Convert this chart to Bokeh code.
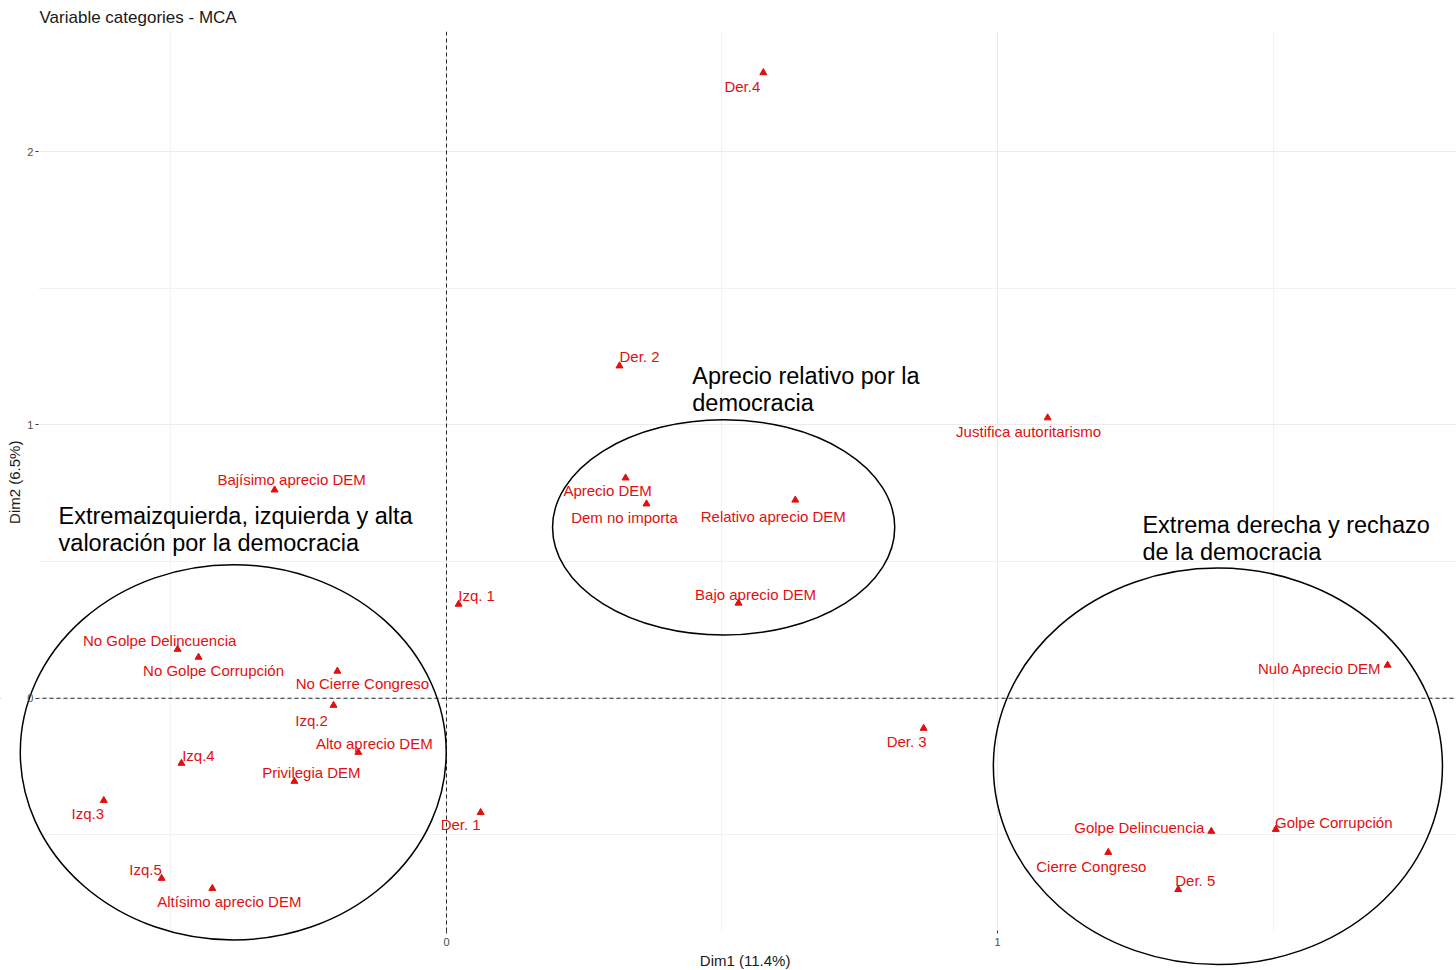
from bokeh.plotting import figure
from bokeh.models import ColumnDataSource, Span, FixedTicker, BoxAnnotation
from bokeh.core.properties import value
from bokeh.embed import file_html
from bokeh.resources import INLINE

# ---- data (MCA variable-category coordinates) ----
categories = [
    "Der.4", "Der. 2", "Justifica autoritarismo", "Aprecio DEM", "Dem no importa",
    "Relativo aprecio DEM", "Bajo aprecio DEM", "Bajísimo aprecio DEM", "Izq. 1",
    "No Golpe Delincuencia", "No Golpe Corrupción", "No Cierre Congreso", "Izq.2",
    "Alto aprecio DEM", "Privilegia DEM", "Izq.4", "Izq.3", "Izq.5",
    "Altísimo aprecio DEM", "Der. 1", "Der. 3", "Nulo Aprecio DEM",
    "Golpe Delincuencia", "Golpe Corrupción", "Cierre Congreso", "Der. 5",
]
dim1 = [
    0.575, 0.314, 1.091, 0.325, 0.363,
    0.633, 0.530, -0.312, 0.022,
    -0.488, -0.450, -0.198, -0.205,
    -0.160, -0.276, -0.481, -0.622, -0.517,
    -0.425, 0.062, 0.866, 1.708,
    1.388, 1.505, 1.201, 1.328,
]
dim2 = [
    2.289, 1.216, 1.026, 0.806, 0.711,
    0.725, 0.348, 0.762, 0.344,
    0.179, 0.150, 0.099, -0.026,
    -0.198, -0.304, -0.238, -0.374, -0.659,
    -0.696, -0.418, -0.110, 0.121,
    -0.487, -0.480, -0.564, -0.700,
]
# label offsets (screen px, repel-style placement)
lab_dx = [-21, 20, -19, -18, -22, -22, 17, 17, 18, -18, 15, 25, -22,
          16, 17, 17, -16, -16, 17, -20, -17, -68, -72, 58, -17, 17]
lab_dy = [14, -9, 14, 13, 14, 16, -9, -10, -9, -9, 13, 12, 15,
          -9, -9, -8, 13, -9, 13, 12, 13, 3, -4, -7, 14, -9]

# group annotations
group_lines = [
    "Extremaizquierda, izquierda y alta", "valoración por la democracia",
    "Aprecio relativo por la", "democracia",
    "Extrema derecha y rechazo", "de la democracia",
]
group_x = [-0.704, -0.704, 0.446, 0.446, 1.263, 1.263]
group_y = [0.667, 0.568, 1.179, 1.080, 0.634, 0.535]

# group ellipses
ell_x = [-0.387, 0.503, 1.400]
ell_y = [-0.198, 0.625, -0.249]
ell_w = [0.773, 0.621, 0.815]
ell_h = [1.374, 0.788, 1.451]

# ggplot panel limits (axes sit here) and full drawing canvas limits
panel_x0, panel_y0 = -0.7405, -0.8498
canvas_x = (-0.8094, 1.8330)
canvas_y = (-0.9963, 2.4396)

FONT = "Liberation Sans"
RED = "#e01010"
NB = "\u00a0"  # padding that centres the axis titles on the panel, not the canvas

p = figure(width=1456, height=970, x_range=canvas_x, y_range=canvas_y,
           output_backend="svg", toolbar_location=None,
           title="Variable categories - MCA")
p.min_border_left = 0
p.min_border_right = 0
p.min_border_top = 0
p.min_border_bottom = 0
p.outline_line_color = None
p.background_fill_color = "white"
p.border_fill_color = "white"

p.title.text_font = FONT
p.title.text_font_size = "17px"
p.title.text_font_style = "normal"
p.title.text_color = "#1a1a1a"
p.title.offset = 39

for ax, ticks, minors, loc in ((p.xaxis[0], [0, 1], [-0.5, 0.5, 1.5], panel_y0),
                               (p.yaxis[0], [0, 1, 2], [-0.5, 0.5, 1.5], panel_x0)):
    ax.ticker = FixedTicker(ticks=ticks, minor_ticks=minors)
    ax.fixed_location = loc
    ax.axis_line_color = None
    ax.major_tick_in = 0
    ax.major_tick_out = 3
    ax.major_tick_line_color = "#333333"
    ax.minor_tick_in = 0
    ax.minor_tick_out = 0
    ax.major_label_text_font = FONT
    ax.major_label_text_font_size = "11px"
    ax.major_label_text_color = "#4d4d4d"
    ax.axis_label_text_font = FONT
    ax.axis_label_text_font_size = "15px"
    ax.axis_label_text_font_style = "normal"
    ax.axis_label_text_color = "#1a1a1a"

p.xaxis[0].major_label_standoff = 5
p.xaxis[0].axis_label_standoff = 2
p.yaxis[0].major_label_standoff = 2
p.yaxis[0].axis_label_standoff = 1

p.xaxis.axis_label = NB * 8 + "Dim1 (11.4%)"
p.yaxis.axis_label = NB * 9 + "Dim2 (6.5%)"

for g in (p.xgrid[0], p.ygrid[0]):
    g.grid_line_color = "#ebebeb"
    g.grid_line_width = 1
    g.minor_grid_line_color = "#f2f2f2"
    g.minor_grid_line_width = 1

p.add_layout(Span(location=0, dimension="height", line_color="#222222",
                  line_dash="4 3", line_width=1, level="underlay"))
p.add_layout(Span(location=0, dimension="width", line_color="#222222",
                  line_dash="4 3", line_width=1, level="underlay"))
# blank the area outside the ggplot panel (axis margins)
p.add_layout(BoxAnnotation(right=panel_x0, fill_color="white", fill_alpha=1,
                           line_color=None, level="underlay"))
p.add_layout(BoxAnnotation(top=panel_y0, fill_color="white", fill_alpha=1,
                           line_color=None, level="underlay"))

src = ColumnDataSource(dict(x=dim1, y=dim2, lab=categories, dx=lab_dx, dy=lab_dy))
p.scatter("x", "y", source=src, marker="triangle", size=7,
          fill_color=RED, line_color=RED)
p.text("x", "y", text="lab", source=src, x_offset="dx", y_offset="dy",
       text_font=value(FONT), text_font_size="15px", text_color=RED,
       text_align="center", text_baseline="middle")

esrc = ColumnDataSource(dict(x=ell_x, y=ell_y, w=ell_w, h=ell_h))
p.ellipse("x", "y", width="w", height="h", source=esrc, fill_alpha=0,
          line_color="black", line_width=1.5)

gsrc = ColumnDataSource(dict(x=group_x, y=group_y, t=group_lines))
p.text("x", "y", text="t", source=gsrc, text_font=value(FONT),
       text_font_size="23.5px", text_color="black", text_align="left",
       text_baseline="middle")

open("out.html", "w").write(file_html(p, INLINE))
